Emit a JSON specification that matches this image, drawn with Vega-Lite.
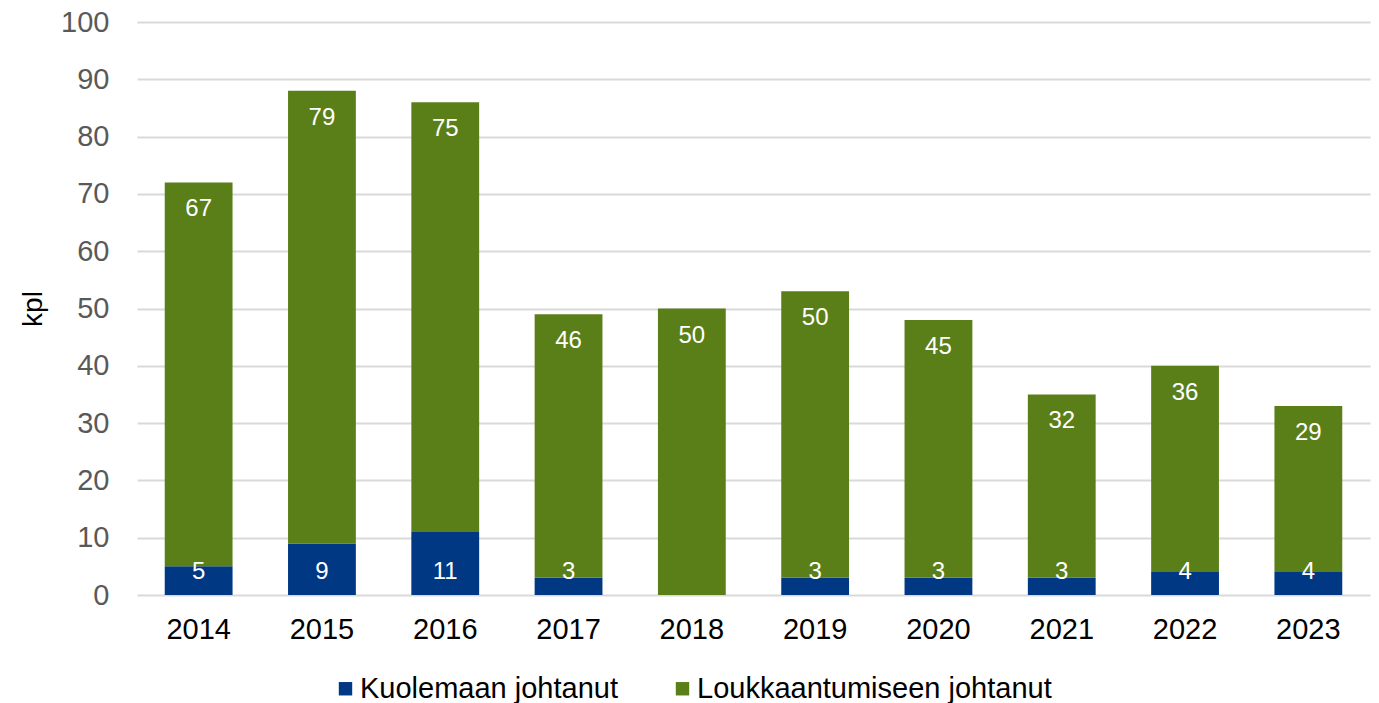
{
  "$schema": "https://vega.github.io/schema/vega-lite/v6.json",
  "width": 1233,
  "height": 573,
  "autosize": "none",
  "padding": {"left": 137, "top": 22, "right": 9, "bottom": 108},
  "background": "white",
  "config": {"font": "Liberation Sans", "view": {"stroke": null}},
  "data": {"values": [
    {"vuosi": "2014", "tyyppi": "Kuolemaan johtanut", "jarj": 1, "kpl": 5},
    {"vuosi": "2014", "tyyppi": "Loukkaantumiseen johtanut", "jarj": 2, "kpl": 67},
    {"vuosi": "2015", "tyyppi": "Kuolemaan johtanut", "jarj": 1, "kpl": 9},
    {"vuosi": "2015", "tyyppi": "Loukkaantumiseen johtanut", "jarj": 2, "kpl": 79},
    {"vuosi": "2016", "tyyppi": "Kuolemaan johtanut", "jarj": 1, "kpl": 11},
    {"vuosi": "2016", "tyyppi": "Loukkaantumiseen johtanut", "jarj": 2, "kpl": 75},
    {"vuosi": "2017", "tyyppi": "Kuolemaan johtanut", "jarj": 1, "kpl": 3},
    {"vuosi": "2017", "tyyppi": "Loukkaantumiseen johtanut", "jarj": 2, "kpl": 46},
    {"vuosi": "2018", "tyyppi": "Kuolemaan johtanut", "jarj": 1, "kpl": 0},
    {"vuosi": "2018", "tyyppi": "Loukkaantumiseen johtanut", "jarj": 2, "kpl": 50},
    {"vuosi": "2019", "tyyppi": "Kuolemaan johtanut", "jarj": 1, "kpl": 3},
    {"vuosi": "2019", "tyyppi": "Loukkaantumiseen johtanut", "jarj": 2, "kpl": 50},
    {"vuosi": "2020", "tyyppi": "Kuolemaan johtanut", "jarj": 1, "kpl": 3},
    {"vuosi": "2020", "tyyppi": "Loukkaantumiseen johtanut", "jarj": 2, "kpl": 45},
    {"vuosi": "2021", "tyyppi": "Kuolemaan johtanut", "jarj": 1, "kpl": 3},
    {"vuosi": "2021", "tyyppi": "Loukkaantumiseen johtanut", "jarj": 2, "kpl": 32},
    {"vuosi": "2022", "tyyppi": "Kuolemaan johtanut", "jarj": 1, "kpl": 4},
    {"vuosi": "2022", "tyyppi": "Loukkaantumiseen johtanut", "jarj": 2, "kpl": 36},
    {"vuosi": "2023", "tyyppi": "Kuolemaan johtanut", "jarj": 1, "kpl": 4},
    {"vuosi": "2023", "tyyppi": "Loukkaantumiseen johtanut", "jarj": 2, "kpl": 29}
  ]},
  "encoding": {
    "x": {
      "field": "vuosi", "type": "nominal",
      "scale": {"paddingInner": 0.45, "paddingOuter": 0.225},
      "axis": {"title": null, "labelAngle": 0, "ticks": false, "domain": false, "labelColor": "#000000", "labelFontSize": 29, "labelPadding": 20}
    }
  },
  "layer": [
    {
      "mark": {"type": "bar"},
      "encoding": {
        "y": {
          "field": "kpl", "type": "quantitative", "stack": "zero",
          "scale": {"domain": [0, 100]},
          "axis": {"values": [0,10,20,30,40,50,60,70,80,90,100], "ticks": false, "domain": false, "gridColor": "#d9d9d9", "gridWidth": 2, "labelColor": "#595959", "labelFontSize": 29, "labelPadding": 28, "title": "kpl", "titleFontSize": 28, "titleFontWeight": "normal", "titleColor": "#000000", "titlePadding": 13}
        },
        "color": {
          "field": "tyyppi", "type": "nominal",
          "scale": {"domain": ["Kuolemaan johtanut", "Loukkaantumiseen johtanut"], "range": ["#003883", "#5b7f18"]},
          "legend": {"title": null, "orient": "none", "legendX": 194, "legendY": 652, "padding": 0, "direction": "horizontal", "symbolType": "square", "symbolSize": 180, "symbolStrokeWidth": 0, "labelFontSize": 29, "labelColor": "#000000", "labelOffset": 0, "columnPadding": 50, "labelLimit": 500}
        },
        "order": {"field": "jarj", "type": "quantitative"}
      }
    },
    {
      "transform": [{"filter": "datum.tyyppi === 'Kuolemaan johtanut' && datum.kpl > 0"}],
      "mark": {"type": "text", "color": "white", "fontSize": 24, "dy": -23, "baseline": "middle"},
      "encoding": {"y": {"datum": 0, "type": "quantitative"}, "text": {"field": "kpl", "type": "quantitative"}}
    },
    {
      "transform": [
        {"stack": "kpl", "groupby": ["vuosi"], "sort": [{"field": "jarj"}], "as": ["y0", "y1"]},
        {"filter": "datum.tyyppi === 'Loukkaantumiseen johtanut'"}
      ],
      "mark": {"type": "text", "color": "white", "fontSize": 24, "dy": 27, "baseline": "middle"},
      "encoding": {"y": {"field": "y1", "type": "quantitative"}, "text": {"field": "kpl", "type": "quantitative"}}
    }
  ]
}
